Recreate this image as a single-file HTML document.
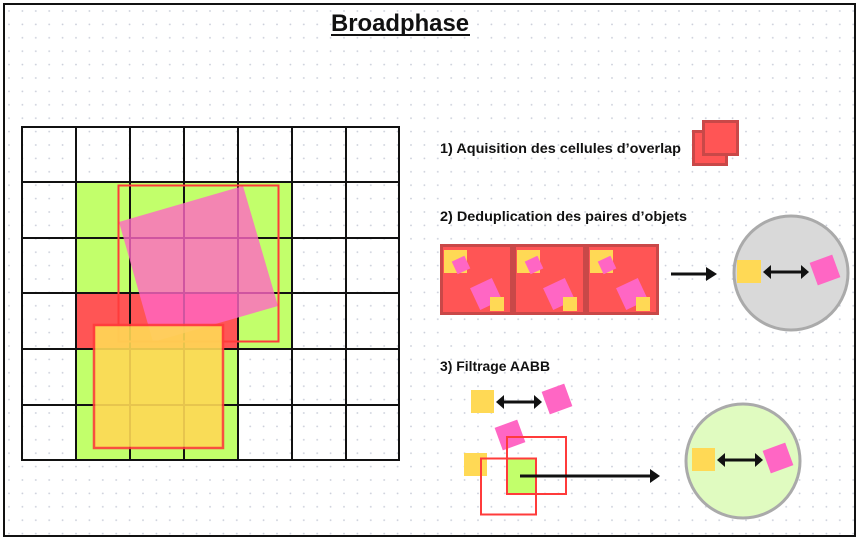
<!DOCTYPE html>
<html><head><meta charset="utf-8"><style>
html,body{margin:0;padding:0;background:#fff;}
svg{display:block;}
text{font-family:"Liberation Sans",sans-serif;font-weight:bold;fill:#111;}
</style></head><body>
<svg width="859" height="541" viewBox="0 0 859 541" xmlns="http://www.w3.org/2000/svg">
<defs>
<pattern id="dots" x="8" y="10" width="13.4" height="13.4" patternUnits="userSpaceOnUse">
<circle cx="1" cy="1" r="0.9" fill="#c8ccd8"/>
</pattern>
<g id="cell">
<rect x="1.5" y="1.5" width="70" height="68" fill="#ff5555" stroke="#c94848" stroke-width="3"/>
<rect x="4" y="6" width="23" height="23" fill="#ffd955"/>
<rect x="-7" y="-7" width="14" height="14" fill="#ff66c4" transform="translate(21,21) rotate(-25)"/>
<rect x="-12" y="-12" width="24" height="24" fill="#ff66c4" transform="translate(46,50) rotate(-25)"/>
<rect x="50" y="53" width="14" height="14" fill="#ffd955"/>
</g>
</defs>
<rect x="0" y="0" width="859" height="541" fill="#fff"/>
<rect x="0" y="0" width="859" height="541" fill="url(#dots)"/>
<rect x="4" y="4" width="851" height="532" fill="none" stroke="#111" stroke-width="2"/>
<text x="400" y="31" text-anchor="middle" font-size="24" textLength="138" lengthAdjust="spacingAndGlyphs">Broadphase</text>
<line x1="331" y1="35" x2="470" y2="35" stroke="#111" stroke-width="2"/>

<rect x="76" y="182" width="216" height="167" fill="#c2ff6b"/>
<rect x="76" y="293" width="162" height="56" fill="#ff5555"/>
<rect x="76" y="349" width="162" height="111" fill="#c2ff6b"/>
<rect x="22" y="127" width="377" height="333" fill="none" stroke="#111" stroke-width="2"/>
<g stroke="#111" stroke-width="2">
<line x1="76" y1="127" x2="76" y2="460"/><line x1="130" y1="127" x2="130" y2="460"/>
<line x1="184" y1="127" x2="184" y2="460"/><line x1="238" y1="127" x2="238" y2="460"/>
<line x1="292" y1="127" x2="292" y2="460"/><line x1="346" y1="127" x2="346" y2="460"/>
<line x1="22" y1="182" x2="399" y2="182"/><line x1="22" y1="238" x2="399" y2="238"/>
<line x1="22" y1="293" x2="399" y2="293"/><line x1="22" y1="349" x2="399" y2="349"/>
<line x1="22" y1="405" x2="399" y2="405"/>
</g>
<polygon points="119,222 243,186 278,306 153,342" fill="#ff66c4" opacity="0.8"/>
<rect x="118.5" y="185.5" width="160" height="156" fill="none" stroke="#ff3b3b" stroke-width="2"/>
<rect x="94" y="325" width="129" height="123" fill="#ffd955" opacity="0.9" stroke="#ff3b3b" stroke-width="2.5"/>

<text x="440" y="153" font-size="14" textLength="241" lengthAdjust="spacingAndGlyphs">1) Aquisition des cellules d’overlap</text>
<rect x="693.5" y="131.5" width="33" height="33" fill="#ff5555" stroke="#c94848" stroke-width="3"/>
<rect x="703.5" y="121.5" width="34" height="33" fill="#ff5555" stroke="#c94848" stroke-width="3"/>

<text x="440" y="221" font-size="14" textLength="247" lengthAdjust="spacingAndGlyphs">2) Deduplication des paires d’objets</text>
<use href="#cell" x="440" y="244"/>
<use href="#cell" x="513" y="244"/>
<use href="#cell" x="586" y="244"/>
<line x1="671" y1="274" x2="708" y2="274" stroke="#111" stroke-width="3"/>
<polygon points="706,267 717,274 706,281" fill="#111"/>
<circle cx="791" cy="273" r="57" fill="#d9d9d9" stroke="#aaa" stroke-width="3"/>
<rect x="737" y="260" width="24" height="23" fill="#ffd955"/>
<line x1="768" y1="272" x2="803" y2="272" stroke="#111" stroke-width="3"/>
<polygon points="763,272 771,265 771,279" fill="#111"/>
<polygon points="809,272 801,265 801,279" fill="#111"/>
<rect x="-12" y="-12" width="24" height="24" fill="#ff66c4" transform="translate(825,270) rotate(-20)"/>

<text x="440" y="371" font-size="14" textLength="110" lengthAdjust="spacingAndGlyphs">3) Filtrage AABB</text>
<rect x="471" y="390" width="23" height="23" fill="#ffd955"/>
<line x1="501" y1="402" x2="536" y2="402" stroke="#111" stroke-width="3"/>
<polygon points="496,402 504,395 504,409" fill="#111"/>
<polygon points="542,402 534,395 534,409" fill="#111"/>
<rect x="-12" y="-12" width="24" height="24" fill="#ff66c4" transform="translate(557,399) rotate(-20)"/>
<rect x="-12" y="-12" width="24" height="24" fill="#ff66c4" transform="translate(510,435) rotate(-20)"/>
<rect x="464" y="453" width="23" height="23" fill="#ffd955"/>
<rect x="508" y="458" width="27" height="35" fill="#c2ff6b"/>
<rect x="481" y="458.5" width="55" height="56" fill="none" stroke="#ff3b3b" stroke-width="2"/>
<rect x="507" y="437" width="59" height="57" fill="none" stroke="#ff3b3b" stroke-width="2"/>
<line x1="520" y1="476" x2="652" y2="476" stroke="#111" stroke-width="3"/>
<polygon points="650,469 660,476 650,483" fill="#111"/>
<circle cx="743" cy="461" r="57" fill="#e0fbc0" stroke="#aaa" stroke-width="3"/>
<rect x="692" y="448" width="23" height="23" fill="#ffd955"/>
<line x1="722" y1="460" x2="757" y2="460" stroke="#111" stroke-width="3"/>
<polygon points="717,460 725,453 725,467" fill="#111"/>
<polygon points="763,460 755,453 755,467" fill="#111"/>
<rect x="-12" y="-12" width="24" height="24" fill="#ff66c4" transform="translate(778,458) rotate(-20)"/>
</svg>
</body></html>
